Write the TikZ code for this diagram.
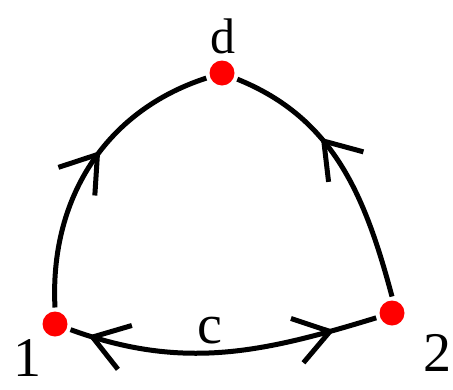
\documentclass[tikz,border=0pt]{standalone}
\usepackage{fontspec}
\setmainfont{Liberation Serif}
\usetikzlibrary{arrows.meta,decorations.markings,positioning}

\begin{document}
\begin{tikzpicture}[x=1pt, y=-1pt, line width=5pt,
    dot/.style={circle, fill=red, draw=none, minimum size=25pt, inner sep=0pt, outer sep=4pt},
    lbl/.style={inner sep=0pt, font=\fontsize{56}{56}\selectfont},
    fwd/.style={postaction={decorate, decoration={markings,
        mark=at position #1 with {\arrow{Straight Barb[length=34pt, width=46pt, line width=5pt]}}}}},
    bwd/.style={postaction={decorate, decoration={markings,
        mark=at position #1 with {\arrowreversed{Straight Barb[length=34pt, width=46pt, line width=5pt]}}}}}]
  \useasboundingbox (0,0) rectangle (453,389);
  % vertices
  \node[dot] (d) at (222,73) {};
  \node[dot] (one) at (55,324) {};
  \node[dot] (two) at (392,313) {};
  % labels
  \node[lbl, font=\fontsize{50}{50}\selectfont] (dlab) at (223,36) {d};
  \node[lbl] (onelab) at (27,358) {1};
  \node[lbl] (twolab) at (437,353) {2};
  \node[lbl] (clab) at (210,331) {c};
  % arcs
  \draw[fwd=0.56] (one.north) to[out=93, in=198] (d);
  \draw[fwd=0.63] (two.north) to[out=105, in=-22] (d);
  \draw[bwd=0.06, fwd=0.86] (one) to[out=-20, in=197] (two);
\end{tikzpicture}
\end{document}
